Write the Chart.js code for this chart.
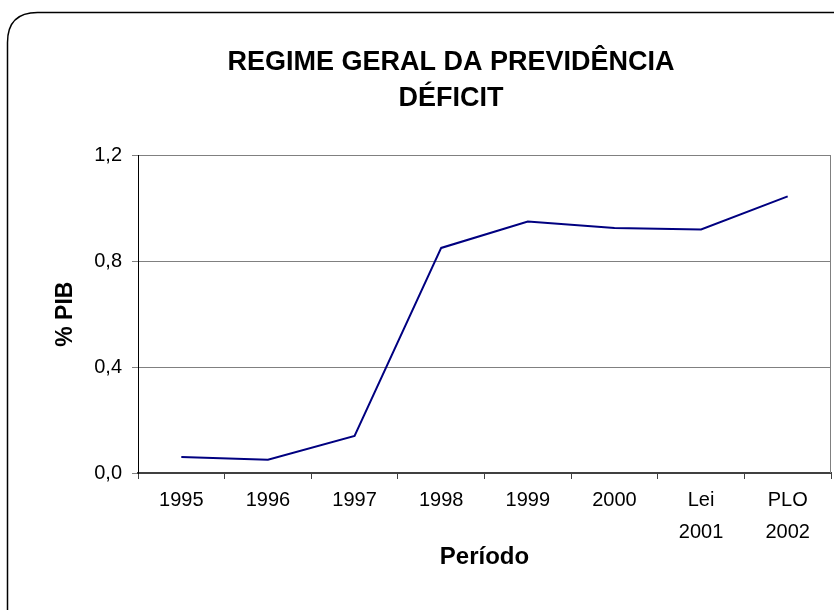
<!DOCTYPE html>
<html>
<head>
<meta charset="utf-8">
<script src="https://cdn.jsdelivr.net/npm/chart.js@4.4.1/dist/chart.umd.min.js"></script>
<style>
  html, body { margin: 0; padding: 0; background: #fff; }
  #wrap { width: 834px; height: 610px; }
</style>
</head>
<body>
<div id="wrap"><canvas id="deficitChart" width="834" height="610"></canvas></div>
<script>
// --- Data ---
const periodos = [['1995'], ['1996'], ['1997'], ['1998'], ['1999'], ['2000'], ['Lei', '2001'], ['PLO', '2002']];
const deficitPIB = [0.06, 0.05, 0.14, 0.85, 0.95, 0.925, 0.92, 1.045];
const yTicks = [0, 0.4, 0.8, 1.2];

const fonte = '"Liberation Sans", Arial, sans-serif';

// Moldura arredondada do gráfico + borda direita da área de plotagem
const molduraPlugin = {
    id: 'moldura',
    beforeDraw(chart) {
        const ctx = chart.ctx;
        ctx.save();
        ctx.fillStyle = '#fff';
        ctx.fillRect(0, 0, chart.width, chart.height);
        const x = 7.5, y = 12.5, w = 880, h = 650, r = 30;
        ctx.beginPath();
        ctx.moveTo(x + r, y);
        ctx.lineTo(x + w - r, y);
        ctx.quadraticCurveTo(x + w, y, x + w, y + r);
        ctx.lineTo(x + w, y + h - r);
        ctx.quadraticCurveTo(x + w, y + h, x + w - r, y + h);
        ctx.lineTo(x + r, y + h);
        ctx.quadraticCurveTo(x, y + h, x, y + h - r);
        ctx.lineTo(x, y + r);
        ctx.quadraticCurveTo(x, y, x + r, y);
        ctx.closePath();
        ctx.strokeStyle = '#000';
        ctx.lineWidth = 1.5;
        ctx.stroke();
        ctx.restore();
    },
    afterDatasetsDraw(chart) {
        const a = chart.chartArea;
        const ctx = chart.ctx;
        ctx.save();
        ctx.strokeStyle = '#808080';
        ctx.lineWidth = 1;
        ctx.beginPath();
        ctx.moveTo(Math.round(a.right) - 0.5, a.top);
        ctx.lineTo(Math.round(a.right) - 0.5, a.bottom);
        ctx.stroke();
        ctx.restore();
    }
};

const ctx = document.getElementById('deficitChart').getContext('2d');
new Chart(ctx, {
    type: 'line',
    data: {
        labels: periodos,
        datasets: [{
            label: 'Déficit (% PIB)',
            data: deficitPIB,
            borderColor: '#000080',
            borderWidth: 2,
            pointRadius: 0,
            tension: 0,
            fill: false
        }]
    },
    options: {
        responsive: false,
        animation: false,
        layout: { padding: { left: 71, right: 3, top: 0, bottom: 0 } },
        plugins: {
            legend: { display: false },
            tooltip: { enabled: false },
            title: {
                display: true,
                text: ['REGIME GERAL DA PREVIDÊNCIA', 'DÉFICIT'],
                color: '#000',
                font: { family: fonte, size: 27, weight: 'bold', lineHeight: 1.32 },
                padding: { top: 45, bottom: 39 }
            }
        },
        scales: {
            x: {
                offset: true,
                afterFit(scale) { scale.height = 137; },
                grid: {
                    offset: true,
                    drawOnChartArea: false,
                    drawTicks: true,
                    tickLength: 6,
                    color: '#404040'
                },
                border: { color: '#404040', width: 2 },
                ticks: {
                    color: '#000',
                    font: { family: fonte, size: 20, lineHeight: 1.6 },
                    padding: 5,
                    maxRotation: 0,
                    autoSkip: false
                },
                title: {
                    display: true,
                    text: 'Período',
                    color: '#000',
                    font: { family: fonte, size: 24, weight: 'bold' },
                    padding: { top: 0, bottom: 38 }
                }
            },
            y: {
                min: 0,
                max: 1.2,
                afterBuildTicks(scale) {
                    scale.ticks = yTicks.map(v => ({ value: v }));
                },
                afterFit(scale) { scale.width = 67; },
                grid: {
                    color: '#808080',
                    tickLength: 6,
                    drawTicks: true
                },
                border: { color: '#000', width: 1 },
                ticks: {
                    color: '#000',
                    font: { family: fonte, size: 20 },
                    padding: 10,
                    callback: v => v.toFixed(1).replace('.', ',')
                },
                title: {
                    display: true,
                    text: '% PIB',
                    color: '#000',
                    font: { family: fonte, size: 23, weight: 'bold' },
                    padding: { top: -19, bottom: 0 }
                }
            }
        }
    },
    plugins: [molduraPlugin]
});
</script>
</body>
</html>
